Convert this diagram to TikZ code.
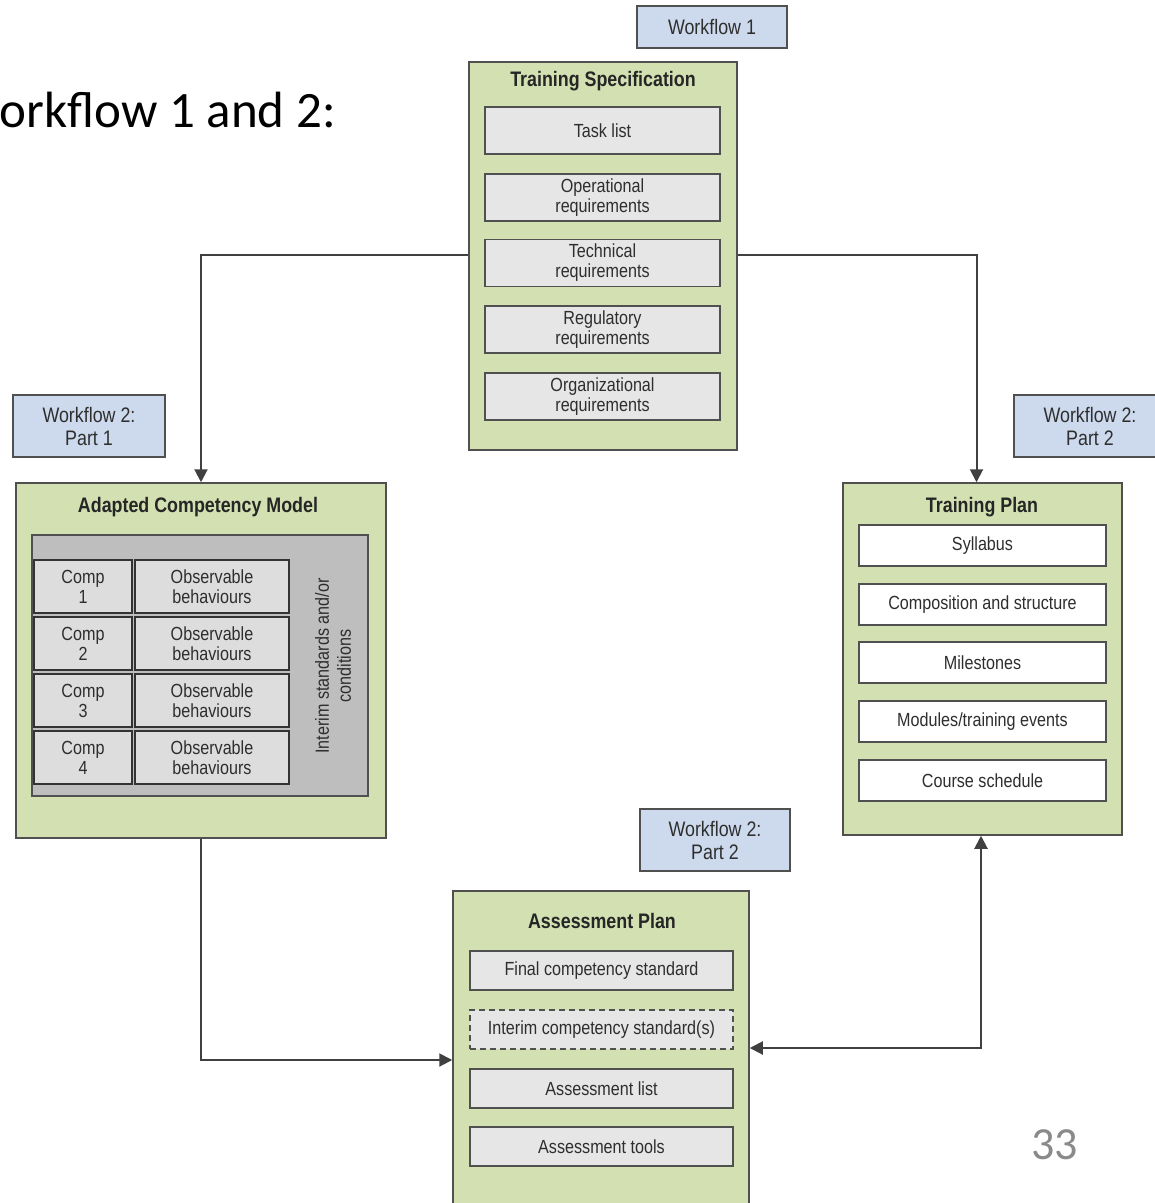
\documentclass[tikz,border=0pt]{standalone}
\usepackage{fontspec}
\newfontfamily\diafont{Liberation Sans}[FakeStretch=0.85]
\newfontfamily\slidefont{Carlito}
\usetikzlibrary{arrows.meta}
\definecolor{boxgreen}{HTML}{D3E0B1}
\definecolor{wfblue}{HTML}{CDDAED}
\definecolor{itemgray}{HTML}{E6E6E6}
\definecolor{cellgray}{HTML}{DDDDDD}
\definecolor{panelgray}{HTML}{BEBEBE}
\definecolor{edgegray}{HTML}{505050}
\definecolor{textgray}{HTML}{2E2E2E}
\definecolor{pagegray}{HTML}{8A8A8A}

\begin{document}
\begin{tikzpicture}[x=1pt,y=-1pt,
  container/.style={draw=edgegray, line width=1.5pt, fill=boxgreen, inner sep=0pt},
  wfbox/.style={draw=edgegray, line width=1.5pt, fill=wfblue, inner sep=0pt, align=center,
    text=textgray, font=\diafont\fontsize{21}{23}\selectfont},
  boxtitle/.style={inner sep=0pt, text=black!85, font=\diafont\bfseries\fontsize{21}{22}\selectfont},
  item/.style={draw=edgegray, line width=1.5pt, fill=itemgray, inner sep=0pt, align=center,
    text=textgray, font=\diafont\fontsize{19}{20}\selectfont},
  whiteitem/.style={item, fill=white},
  panel/.style={draw=edgegray, line width=1.5pt, fill=panelgray, inner sep=0pt},
  cell/.style={item, draw=black!80, line width=2pt, fill=cellgray},
  link/.style={draw=black!75, line width=2pt, -{Triangle[length=13pt,width=13pt]}},
  dlink/.style={link, {Triangle[length=13pt,width=13pt]}-{Triangle[length=13pt,width=13pt]}}
]
\useasboundingbox[fill=white] (0,0) rectangle (1155,1203);

% slide heading and page number
\node[anchor=base east, inner sep=0pt, font=\slidefont\fontsize{51}{56}\selectfont] (heading) at (336,127) {orkflow 1 and 2:};
\node[anchor=base east, inner sep=0pt, text=pagegray, font=\slidefont\fontsize{46}{50}\selectfont] (pagenum) at (1078,1159) {33};

% workflow tags
\node[wfbox, minimum width=150pt, minimum height=42pt] (wf1) at (712,27) {Workflow 1};
\node[wfbox, minimum width=152pt, minimum height=62pt] (wf2a) at (89,426) {Workflow 2:\\Part 1};
\node[wfbox, minimum width=152pt, minimum height=62pt] (wf2b) at (1090,426) {Workflow 2:\\Part 2};
\node[wfbox, minimum width=150pt, minimum height=62pt] (wf2c) at (715,840) {Workflow 2:\\Part 2};

% Training Specification
\node[container, minimum width=268pt, minimum height=388pt] (spec) at (603,256) {};
\node[boxtitle] (spectitle) at (603,81) {Training Specification};
\node[item, minimum width=235pt, minimum height=47pt] (task) at (602.5,130.5) {Task list};
\node[item, minimum width=235pt, minimum height=47pt] (oper) at (602.5,197.5) {Operational\\requirements};
\node[item, minimum width=235pt, minimum height=47pt] (tech) at (602.5,263) {Technical\\requirements};
\node[item, minimum width=235pt, minimum height=47pt] (regu) at (602.5,329.5) {Regulatory\\requirements};
\node[item, minimum width=235pt, minimum height=47pt] (orga) at (602.5,396.5) {Organizational\\requirements};

% Adapted Competency Model
\node[container, minimum width=370pt, minimum height=355pt] (acm) at (201,660.5) {};
\node[boxtitle] (acmtitle) at (198,507) {Adapted Competency Model};
\node[panel, minimum width=336pt, minimum height=261pt] (acmpanel) at (200,665.5) {};
\foreach \r/\y in {1/586.5, 2/643.5, 3/700.5, 4/757.5} {
  \node[cell, minimum width=98pt, minimum height=53pt] (comp\r) at (83,\y) {Comp\\\r};
  \node[cell, minimum width=154pt, minimum height=53pt] (obs\r) at (212,\y) {Observable\\behaviours};
}
\node[rotate=90, inner sep=0pt, align=center, text=textgray,
  font=\diafont\fontsize{19}{22}\selectfont] (interim) at (333,666) {Interim standards and/or\\conditions};

% Training Plan
\node[container, minimum width=279pt, minimum height=352pt] (tp) at (982.5,659) {};
\node[boxtitle] (tptitle) at (982,507) {Training Plan};
\node[whiteitem, minimum width=247pt, minimum height=41pt] (syll) at (982.5,545.5) {Syllabus};
\node[whiteitem, minimum width=247pt, minimum height=41pt] (comps) at (982.5,604.5) {Composition and structure};
\node[whiteitem, minimum width=247pt, minimum height=41pt] (miles) at (982.5,662.5) {Milestones};
\node[whiteitem, minimum width=247pt, minimum height=41pt] (modu) at (982.5,721.5) {Modules/training events};
\node[whiteitem, minimum width=247pt, minimum height=41pt] (sched) at (982.5,780.5) {Course schedule};

% Assessment Plan
\node[container, minimum width=296pt, minimum height=338pt] (ap) at (601,1060) {};
\node[boxtitle] (aptitle) at (602,921) {Assessment Plan};
\node[item, minimum width=263pt, minimum height=39pt] (final) at (601.5,970.5) {Final competency standard};
\node[item, dash pattern=on 6pt off 4pt, minimum width=263pt, minimum height=39pt] (intcs) at (601.5,1029.5) {Interim competency standard(s)};
\node[item, minimum width=263pt, minimum height=39pt] (alist) at (601.5,1088.5) {Assessment list};
\node[item, minimum width=263pt, minimum height=39pt] (atools) at (601.5,1146.5) {Assessment tools};

% connectors
\draw[link] ([yshift=1pt]spec.west) -| (acm.north);
\draw[link] ([yshift=1pt]spec.east) -| ([xshift=-6pt]tp.north);
\draw[link] (acm.south) |- (ap.west);
\draw[dlink] ([xshift=-1.5pt]tp.south) |- ([yshift=12pt]ap.east);
\end{tikzpicture}
\end{document}
